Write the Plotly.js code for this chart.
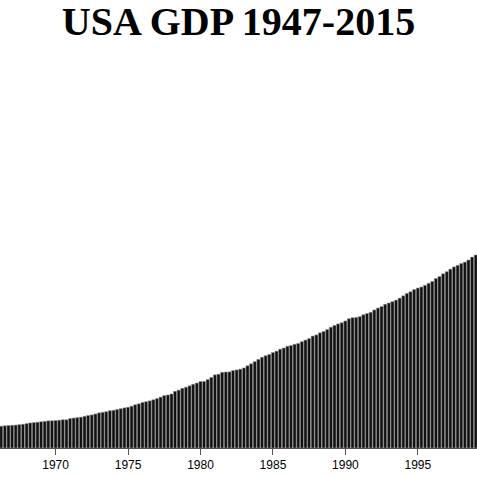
<!DOCTYPE html>
<html>
<head>
<script src="https://cdn.plot.ly/plotly-3.0.1.min.js"></script>
<style>html,body{margin:0;padding:0;background:#fff}</style>
</head>
<body>
<div id="chart" style="width:477px;height:477px"></div>
<script>
// Quarterly GDP, billions of dollars
const years = [];
for (let y = 1965; y <= 1999; y++) years.push(y);
const gdpByYear = [
    [719, 732, 750, 773], [797, 806, 820, 831], [838, 845, 862, 876],
    [900, 924, 937, 949], [969, 983, 1002, 1005], [1012, 1025, 1043, 1040],
    [1087, 1105, 1122, 1137], [1171, 1201, 1220, 1256], [1296, 1317, 1338, 1376],
    [1391, 1423, 1450, 1480], [1503, 1542, 1595, 1630], [1682, 1708, 1738, 1778],
    [1824, 1877, 1935, 1955], [1993, 2092, 2135, 2201], [2242, 2292, 2351, 2396],
    [2453, 2455, 2524, 2604], [2698, 2720, 2792, 2803], [2807, 2856, 2880, 2908],
    [2952, 3034, 3106, 3187], [3269, 3347, 3404, 3451], [3522, 3572, 3644, 3688],
    [3753, 3781, 3826, 3857], [3922, 3981, 4036, 4128], [4170, 4248, 4299, 4372],
    [4456, 4521, 4577, 4619], [4687, 4770, 4804, 4815], [4846, 4916, 4960, 5005],
    [5091, 5161, 5220, 5302], [5348, 5398, 5454, 5528], [5613, 5702, 5762, 5844],
    [5898, 5938, 6001, 6075], [6143, 6253, 6329, 6426], [6503, 6596, 6679, 6738],
    [6807, 6856, 6933, 7041], [7119, 7185, 7279, 7421]
];
const quarterMonths = ['01', '04', '07', '10'];

const dates = [];
const gdp = [];
years.forEach((y, i) => {
    gdpByYear[i].forEach((v, q) => {
        dates.push(`${y}-${quarterMonths[q]}-01`);
        gdp.push(v);
    });
});

Plotly.newPlot('chart', [{
    x: dates,
    y: gdp,
    type: 'bar',
    marker: { color: '#111', line: { color: '#999', width: 0.6 } }
}], {
    title: {
        text: '<b>USA GDP 1947-2015</b>',
        font: { family: 'Liberation Serif, serif', size: 40, color: '#000' },
        x: 0.5, y: 0.985, yanchor: 'top'
    },
    width: 477, height: 477,
    margin: { l: 0, r: 0, t: 60, b: 29 },
    bargap: 0.12,
    showlegend: false,
    plot_bgcolor: '#fff', paper_bgcolor: '#fff',
    xaxis: {
        type: 'date',
        range: ['1966-03-01', '1999-02-01'],
        tickvals: ['1970-01-01', '1975-01-01', '1980-01-01', '1985-01-01', '1990-01-01', '1995-01-01'],
        ticktext: ['1970', '1975', '1980', '1985', '1990', '1995'],
        ticks: 'outside', ticklen: 6, tickcolor: '#555',
        showline: true, linecolor: '#555', showgrid: false,
        tickfont: { family: 'Liberation Sans, Arial', size: 12, color: '#000' }
    },
    yaxis: { range: [0, 14310], visible: false, showgrid: false }
}, { displayModeBar: false, staticPlot: true });
</script>
</body>
</html>
